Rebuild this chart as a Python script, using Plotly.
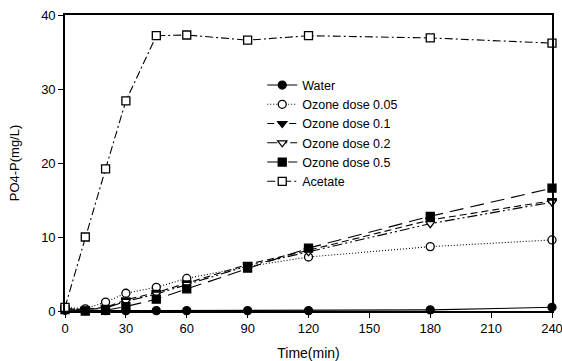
import plotly.graph_objects as go

time = [0, 10, 20, 30, 45, 60, 90, 120, 180, 240]
water = [0.1, 0.05, 0.05, 0.05, 0.05, 0.05, 0.05, 0.05, 0.15, 0.5]
ozone_005 = [0.5, 0.3, 1.2, 2.4, 3.2, 4.4, 6.0, 7.3, 8.7, 9.6]
ozone_01 = [0.3, 0.2, 0.5, 1.5, 2.5, 3.8, 6.3, 8.2, 12.3, 14.9]
ozone_02 = [0.3, 0.2, 0.4, 1.3, 2.3, 3.6, 6.1, 8.0, 11.8, 14.7]
ozone_05 = [0.2, 0.0, 0.1, 0.6, 1.6, 3.0, 5.8, 8.5, 12.8, 16.6]
acetate = [0.5, 10.0, 19.2, 28.4, 37.2, 37.3, 36.6, 37.2, 36.9, 36.2]

series = [
    ("Water", water, "solid", "circle", "black"),
    ("Ozone dose 0.05", ozone_005, "1px,2px", "circle", "white"),
    ("Ozone dose 0.1", ozone_01, "7px,4px", "triangle-down", "black"),
    ("Ozone dose 0.2", ozone_02, "10px,3px,2px,3px,2px,3px", "triangle-down", "white"),
    ("Ozone dose 0.5", ozone_05, "14px,7px", "square", "black"),
    ("Acetate", acetate, "8px,3px,2px,3px", "square", "white"),
]

fig = go.Figure()
for name, vals, dash, sym, fill in series:
    fig.add_trace(go.Scatter(
        x=time, y=vals, name=name, mode="lines+markers",
        line=dict(color="black", width=1.1, dash=dash),
        marker=dict(symbol=sym, size=8, color=fill,
                    line=dict(color="black", width=1.3)),
        cliponaxis=False,
    ))

font = "Liberation Sans, Arial, sans-serif"
fig.update_layout(
    width=562, height=361,
    margin=dict(l=65, r=10, t=15, b=50),
    paper_bgcolor="white", plot_bgcolor="white",
    font=dict(family=font, size=13, color="black"),
    showlegend=True,
    legend=dict(x=0.405, y=0.60, xanchor="left", yanchor="middle",
                bgcolor="rgba(0,0,0,0)", font=dict(size=12.5),
                tracegroupgap=0),
    xaxis=dict(range=[0, 240], tickvals=[0, 30, 60, 90, 120, 150, 180, 210, 240],
               ticks="outside", ticklen=5, tickwidth=1.2, tickcolor="black",
               showline=True, linecolor="black", linewidth=1.6, mirror=True,
               showgrid=False, zeroline=False, automargin=False,
               ticklabeloverflow="allow",
               title=dict(text="Time(min)", font=dict(size=14), standoff=15)),
    yaxis=dict(range=[0, 40], tickvals=[0, 10, 20, 30, 40],
               ticks="outside", ticklen=5, tickwidth=1.2, tickcolor="black",
               showline=True, linecolor="black", linewidth=1.6, mirror=True,
               showgrid=False, zeroline=False, automargin=False,
               ticklabeloverflow="allow",
               title=dict(text="PO4-P(mg/L)", font=dict(size=13), standoff=19)),
)

fig.write_html("out.html", config={"displayModeBar": False},
               post_script="document.body.style.margin='0';")
